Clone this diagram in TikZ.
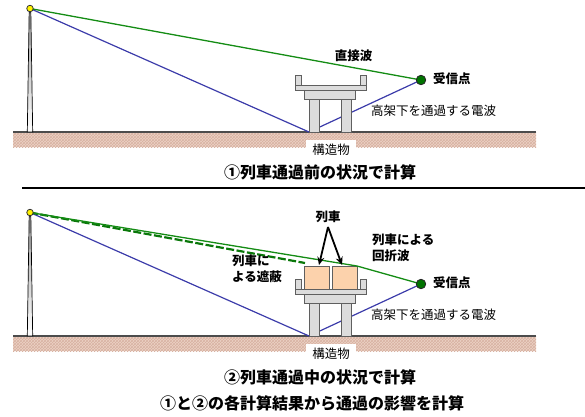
\documentclass[tikz,border=0pt]{standalone}
\usepackage{fontspec}
\newfontfamily\jp{Noto Sans CJK JP}
\usetikzlibrary{patterns,arrows.meta}

\definecolor{wavegreen}{RGB}{20,140,20}
\definecolor{shadegreen}{RGB}{10,120,10}
\definecolor{waveblue}{RGB}{60,60,170}
\definecolor{soil}{RGB}{236,210,197}
\definecolor{soilhatch}{RGB}{216,178,162}
\definecolor{concrete}{RGB}{220,220,220}
\definecolor{edge}{RGB}{95,95,95}
\definecolor{cargo}{RGB}{252,210,172}
\definecolor{rxgreen}{RGB}{0,115,0}

\tikzset{
  lbl/.style={font=\jp\fontsize{12.5}{16}\selectfont, inner sep=0pt},
  lblb/.style={font=\jp\bfseries\fontsize{12.5}{16}\selectfont, inner sep=0pt, align=left},
  title/.style={font=\jp\bfseries\fontsize{16}{18}\selectfont, inner sep=0pt},
  direct/.style={draw=wavegreen, line width=1.3pt},
  blocked/.style={draw=shadegreen, line width=2.2pt, dash pattern=on 8pt off 2.5pt},
  viaduct/.style={draw=waveblue, line width=1.2pt},
  slab/.style={fill=concrete, draw=edge, line width=0.9pt},
  car/.style={fill=cargo, draw=edge, line width=0.9pt},
  antenna/.style={circle, fill=yellow, draw=black!80, line width=0.8pt, minimum size=6.5pt, inner sep=0pt},
  receiver/.style={circle, fill=rxgreen, draw=black!85, line width=0.8pt, minimum size=9.5pt, inner sep=0pt},
  pointer/.style={draw=black, line width=1.8pt, -{Stealth[length=8pt,width=7pt]}},
  tagbox/.style={fill=white, inner xsep=6pt, inner ysep=4pt, font=\jp\fontsize{12.5}{15}\selectfont},
}

\begin{document}
\begin{tikzpicture}[x=1pt, y=-1pt]
\useasboundingbox (0,0) rectangle (585,416);

\foreach \o/\p in {0/a, 204/b} {
  % key points of the panel
  \coordinate (antc\p) at (30,8.5+\o);
  \coordinate (rxc\p) at (421,80+\o);
  \coordinate (bounce\p) at (309,132+\o);

  % ground strip
  \fill[soil] (13,132+\o) rectangle (536,147+\o);
  \fill[pattern=crosshatch, pattern color=soilhatch] (13,132+\o) rectangle (536,147+\o);
  \draw[edge!80!black, line width=1.2pt] (13,132+\o) -- (536,132+\o);

  % transmitting mast
  \shade[top color=black!40, bottom color=white] (27.3,132+\o) -- (29.2,10+\o) -- (30.8,10+\o) -- (32.7,132+\o) -- cycle;
  \draw[black, line width=0.7pt] (27.3,132+\o) -- (29.2,10+\o) -- (30.8,10+\o) -- (32.7,132+\o) -- cycle;

  % wave passing under the viaduct
  \draw[viaduct] (antc\p) -- (bounce\p) -- (rxc\p);

  % viaduct
  \filldraw[slab] (295,75+\o) rectangle (301,86+\o);
  \filldraw[slab] (360,75+\o) rectangle (366,86+\o);
  \filldraw[slab] (295,85+\o) rectangle (366,90+\o);
  \filldraw[slab] (304,90+\o) rectangle (355,99+\o);
  \filldraw[slab] (309,99+\o) rectangle (319,132+\o);
  \filldraw[slab] (341,99+\o) rectangle (351,132+\o);

  \node[tagbox] (struct\p) at (331,150+\o) {構造物};
  \node[lbl, anchor=west] (under\p) at (371,111+\o) {高架下を通過する電波};
  \node[lblb, anchor=west] (rxlbl\p) at (433,79+\o) {受信点};
}

% panel 1: free direct path
\draw[direct] (antca) -- (rxca);
\node[lblb] (directlbl) at (353.5,56) {直接波};
\node[title] (title1) at (320,172) {①列車通過前の状況で計算};

\draw[black, line width=1.3pt] (22,188) -- (585,188);

% panel 2: train on the viaduct
\filldraw[car] (304,266) rectangle (329,289.5);
\filldraw[car] (332,266) rectangle (357,289.5);
\coordinate (carLtop) at (319,265);
\coordinate (carRtop) at (342,265);
\coordinate (edgeR) at (357,266);
\coordinate (cut) at (305,263);

\draw[blocked] (antcb) -- (cut);
\draw[direct] (antcb) -- (edgeR) -- (rxcb);

\node[lblb] (trainlbl) at (328,217) {列車};
\coordinate (fork) at (328,227);
\draw[pointer] (fork) -- (carLtop);
\draw[pointer] (fork) -- (carRtop);

\node[lblb, anchor=north west] (difflbl) at (372,234) {列車による\\回折波};
\node[lblb, anchor=north west] (shadelbl) at (232,255) {列車に\\よる遮蔽};

\node[title] (title2) at (320,377) {②列車通過中の状況で計算};
\node[title] (title3) at (312,403) {①と②の各計算結果から通過の影響を計算};

% transmitter and receiver marks on top
\foreach \p in {a,b} {
  \node[antenna] (ant\p) at (antc\p) {};
  \node[receiver] (rx\p) at (rxc\p) {};
}
\end{tikzpicture}
\end{document}
